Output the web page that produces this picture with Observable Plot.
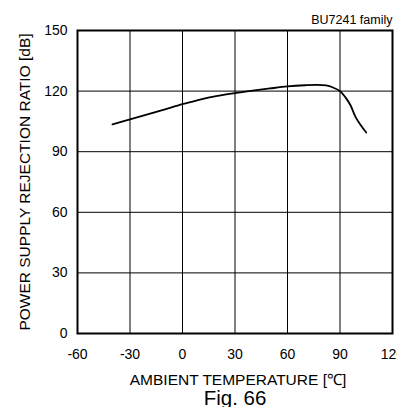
<!DOCTYPE html>
<html>
<head>
<meta charset="utf-8">
<script src="https://cdn.jsdelivr.net/npm/d3@7"></script>
<script src="https://cdn.jsdelivr.net/npm/@observablehq/plot@0.6"></script>
<style>
  html, body { margin: 0; padding: 0; background: #fff; }
</style>
</head>
<body>
<div id="chart"></div>
<script>
const temps = [-40, -30, -20, -10, 0, 10, 20, 30, 40, 50, 60, 70, 77, 82, 86, 90, 93, 96, 99, 102, 105];
const psrr  = [103.5, 106, 108.5, 111, 113.5, 115.8, 117.6, 119, 120.2, 121.3, 122.3, 122.9, 123.1, 122.8, 121.8, 120, 117, 113, 107, 103, 99.5];
const xTicks = [-60, -30, 0, 30, 60, 90, 120];
const yTicks = [0, 30, 60, 90, 120, 150];
const xLabel = ["AMBIENT TEMPERATURE [℃]"];
const yLabel = ["POWER SUPPLY REJECTION RATIO [dB]"];
const figLabel = ["Fig. 66"];
const familyLabel = ["BU7241 family"];

const data = temps.map((t, i) => ({t, v: psrr[i]}));

const chart = Plot.plot({
  width: 397,
  height: 407,
  marginTop: 30,
  marginBottom: 74,
  marginLeft: 77,
  marginRight: 5,
  style: {fontFamily: "'Liberation Sans', Arial, sans-serif", fontSize: "14px", color: "black", background: "white"},
  x: {domain: [-60, 120]},
  y: {domain: [0, 150]},
  marks: [
    Plot.gridX(xTicks, {stroke: "black", strokeOpacity: 1, strokeWidth: 1}),
    Plot.gridY(yTicks, {stroke: "black", strokeOpacity: 1, strokeWidth: 1}),
    Plot.frame({stroke: "black", strokeWidth: 2}),
    Plot.line(data, {x: "t", y: "v", stroke: "black", strokeWidth: 1.8, curve: "catmull-rom"}),
    Plot.axisX({ticks: xTicks, tickSize: 0, tickPadding: 16, fontSize: 14, label: null, tickFormat: d => String(d)}),
    Plot.axisY({ticks: yTicks, tickSize: 0, tickPadding: 10, fontSize: 14, label: null, tickFormat: d => String(d)}),
    Plot.text(yLabel, {text: d => d, frameAnchor: "left", rotate: -90, dx: -52, textAnchor: "middle", lineAnchor: "middle", fontSize: 15.5}),
    Plot.text(xLabel, {text: d => d, frameAnchor: "bottom", dy: 47, dx: 3, textAnchor: "middle", lineAnchor: "middle", fontSize: 15.5}),
    Plot.text(figLabel, {text: d => d, frameAnchor: "bottom", dy: 65, textAnchor: "middle", lineAnchor: "middle", fontSize: 20.5}),
    Plot.text(familyLabel, {text: d => d, frameAnchor: "top-right", textAnchor: "end", lineAnchor: "middle", dy: -11, fontSize: 12.5})
  ]
});
document.getElementById("chart").appendChild(chart);
</script>
</body>
</html>
